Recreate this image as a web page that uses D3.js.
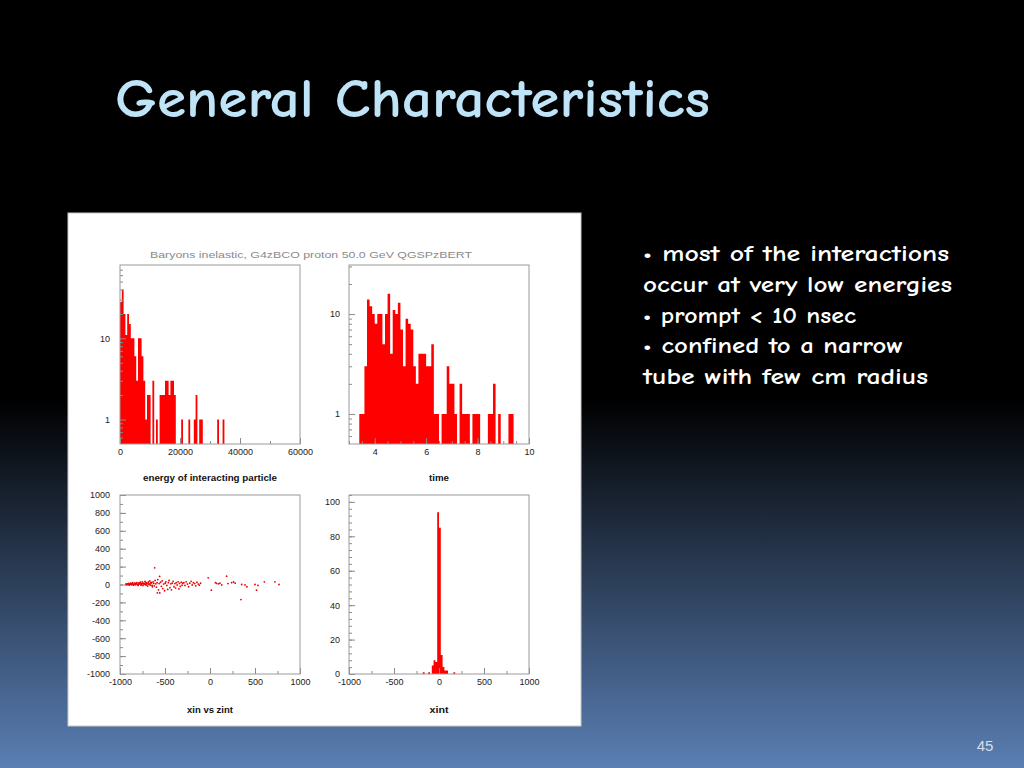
<!DOCTYPE html>
<html>
<head>
<meta charset="utf-8">
<script src="https://cdn.jsdelivr.net/npm/d3@7"></script>
<style>
  body { margin: 0; background: #000; overflow: hidden; }
</style>
</head>
<body>
<div id="slide"></div>
<script>
// energy of interacting particle, bins of 600 starting at 0
const energyBinWidth = 600;
const energyCounts = [28, 40, 20, 11, 20, 15, 10, 10, 6, 3,
                      10, 10, 6, 3, 1, 2, 2, 0, 3, 0,
                      1, 0, 2, 2, 2, 3, 3, 2, 3, 3,
                      2, 0, 0, 0, 1, 0, 0, 0, 1, 0,
                      0, 1, 2, 0, 1, 1, 0, 0, 0, 0,
                      0, 0, 0, 0, 1, 0, 0, 1];
const energyTicks = [0, 20000, 40000, 60000];

// time, bins of 0.1 starting at 3
const timeStart = 3;
const timeBinWidth = 0.1;
const timeCounts = [0, 0, 0, 0, 1, 1, 3, 14, 12, 10,
                    8, 10, 10, 5, 10, 16, 4, 11, 10, 13,
                    7, 3, 9, 8, 7, 3, 2, 4, 4, 4,
                    3, 3, 5, 1, 1, 0, 1, 1, 3, 2,
                    2, 1, 0, 2, 1, 1, 1, 0, 1, 1,
                    1, 0, 0, 0, 1, 1, 2, 0, 1, 0,
                    0, 0, 1, 1];
const timeTicks = [4, 6, 8, 10];

// xin vs zint scatter
const scatterX = [
  -935, -925, -918, -910, -902, -895, -888, -880, -872, -865, -858, -850, -842, -835, -828,
  -820, -812, -805, -798, -790, -782, -775, -768, -760, -752, -745, -738, -730, -722, -715,
  -708, -700, -692, -685, -678, -670, -662, -655, -648, -640, -632, -625, -618, -610, -602,
  -595, -588, -580, -572, -565, -558, -550, -540, -532, -525, -515, -505, -498, -490, -480,
  -470, -462, -455, -445, -435, -428, -420, -410, -400, -390, -382, -375, -365, -355, -345,
  -338, -330, -320, -310, -302,
  -290, -278, -265, -250, -238, -225, -210, -198, -185, -170, -158, -145, -130, -118, -105,
  -615, -585, -560, -20, 15, 60, 74, 95, 110, 130, 185, 200, 240, 262, 280,
  344, 352, 389, 410, 500, 517, 533, 604, 722, 767,
  -930, -914, -898, -884, -868, -853, -838, -824, -808, -793, -778, -763, -748, -733, -718,
  -703, -688, -673, -658, -643
];
const scatterY = [
  5, -3, 8, 0, 12, -6, 4, 15, -2, 9, 20, -8, 6, 14, -4,
  10, 22, 2, -10, 18, 7, 25, -5, 12, 30, -12, 16, 8, 35, -3,
  20, 10, -18, 28, 5, 40, -8, 15, 22, -25, 30, 12, -15, 45, 8,
  -30, 20, 55, -60, 10, -95, 25, -20, 40, -45, 5, -70, 15, 30, -10,
  -55, 20, 45, -35, 8, -60, 15, 35, -25, 10, -40, 20, -5, 30, -50,
  12, -20, 25, -8, 15,
  20, -10, 30, 5, -25, 15, 35, -5, 20, 10, -15, 25, 5, -8, 15,
  186, -93, 90, 75, -63, 20, 12, 8, 15, -5, 93, 10, 20, 28, 15,
  -168, 0, -5, -25, 0, -63, -10, 30, 30, 0,
  2, 6, -4, 10, 3, -1, 8, 12, 0, 5, 14, -2, 9, 4, 18,
  -6, 11, 3, 24, -10
];

// xint histogram, bins of 20 from -1000 (low edges of filled bins)
const xintStart = -1000;
const xintBinWidth = 20;
const xintEdges = [-180, -120, -80, -60, -40, -20, 0, 20, 40, 60, 80, 160];
const xintCounts = [1, 1, 5, 8, 7, 94, 85, 11, 4, 2, 2, 1];

const bullets = [
  '\u2022 most of the interactions',
  'occur at very low energies',
  '\u2022 prompt < 10 nsec',
  '\u2022 confined to a narrow',
  'tube with few cm radius'
];
const bulletWidths = [306, 309, 213, 260, 285];

const plotFont = "'Liberation Sans', Arial, Helvetica, sans-serif";
const slideFont = "'Comic Sans MS', 'Comic Neue', Lato, sans-serif";

const svg = d3.select('#slide').append('svg')
    .attr('width', 1024)
    .attr('height', 768);

const grad = svg.append('defs').append('linearGradient')
    .attr('id', 'bg')
    .attr('x1', 0).attr('y1', 0).attr('x2', 0).attr('y2', 1);
grad.append('stop').attr('offset', '0%').attr('stop-color', '#000');
grad.append('stop').attr('offset', '52%').attr('stop-color', '#000');
grad.append('stop').attr('offset', '100%').attr('stop-color', '#5a7fb4');

svg.append('rect')
    .attr('width', 1024)
    .attr('height', 768)
    .attr('fill', 'url(#bg)');

svg.append('text')
    .attr('x', 115)
    .attr('y', 117)
    .attr('font-family', slideFont)
    .attr('font-size', 54)
    .attr('font-weight', 'bold')
    .attr('fill', '#bfe4f8')
    .attr('textLength', 595)
    .attr('lengthAdjust', 'spacingAndGlyphs')
    .text('General Characteristics');

svg.append('g').selectAll('text')
    .data(bullets)
    .join('text')
    .attr('x', 643)
    .attr('y', (d, i) => 261 + i * 30.8)
    .attr('font-family', slideFont)
    .attr('font-size', 23)
    .attr('font-weight', 'bold')
    .attr('fill', '#fff')
    .attr('textLength', (d, i) => bulletWidths[i])
    .attr('lengthAdjust', 'spacingAndGlyphs')
    .text(d => d);

svg.append('text')
    .attr('x', 985)
    .attr('y', 751)
    .attr('text-anchor', 'middle')
    .attr('font-family', plotFont)
    .attr('font-size', 15)
    .attr('fill', '#d8dde8')
    .text('45');

// white picture panel
svg.append('rect')
    .attr('x', 68)
    .attr('y', 213)
    .attr('width', 513)
    .attr('height', 513)
    .attr('fill', '#fff')
    .attr('stroke', '#c8c8c8');

svg.append('text')
    .attr('x', 311)
    .attr('y', 258)
    .attr('text-anchor', 'middle')
    .attr('font-family', plotFont)
    .attr('font-size', 9.5)
    .attr('fill', '#8a8a8a')
    .attr('textLength', 322)
    .attr('lengthAdjust', 'spacingAndGlyphs')
    .text('Baryons inelastic,  G4zBCO proton 50.0 GeV QGSPzBERT');

const fmt = d => String(d);

function axes(g, x, y, o) {
    const [x0, x1] = x.range();
    const [y1, y0] = y.range();
    const clean = s => s.select('.domain').remove();

    g.append('g').attr('transform', `translate(0,${y1})`)
        .call(d3.axisBottom(x).tickValues(o.xMinor).tickSize(-3).tickFormat(''))
        .call(clean);
    g.append('g').attr('transform', `translate(${x0},0)`)
        .call(d3.axisLeft(y).tickValues(o.yMinor).tickSize(-3).tickFormat(''))
        .call(clean);

    g.append('g').attr('transform', `translate(0,${y1})`)
        .call(d3.axisBottom(x).tickValues(o.xMajor).tickSize(-6).tickPadding(5).tickFormat(fmt))
        .call(clean);
    g.append('g').attr('transform', `translate(${x0},0)`)
        .call(d3.axisLeft(y).tickValues(o.yMajor).tickSize(-6).tickPadding(o.yPad).tickFormat(fmt))
        .call(clean);

    g.selectAll('.tick line').attr('stroke', '#8a8a8a');
    g.selectAll('.tick text')
        .attr('font-family', plotFont)
        .attr('font-size', 9)
        .attr('fill', '#222');

    g.append('rect')
        .attr('x', x0).attr('y', y0)
        .attr('width', x1 - x0).attr('height', y1 - y0)
        .attr('fill', 'none')
        .attr('stroke', '#9a9a9a');

    g.append('text')
        .attr('x', (x0 + x1) / 2)
        .attr('y', o.titleY)
        .attr('text-anchor', 'middle')
        .attr('font-family', plotFont)
        .attr('font-size', 9)
        .attr('font-weight', 'bold')
        .attr('fill', '#111')
        .attr('textLength', o.titleW)
        .attr('lengthAdjust', 'spacingAndGlyphs')
        .text(o.title);
}

function logMinor(lo, hi) {
    const v = [];
    for (let dec = 0.1; dec <= 100; dec *= 10) {
        for (let k = 2; k <= 9; k++) {
            const t = +(k * dec).toPrecision(3);
            if (t > lo && t < hi) v.push(t);
        }
    }
    return v;
}

// filled histogram drawn as one stepped area, so adjacent bins have no seams
function hist(g, counts, start, w, x, y, base) {
    const pts = counts.map((c, i) => ({ lo: start + i * w, c }));
    pts.push({ lo: start + counts.length * w, c: counts[counts.length - 1] });
    const area = d3.area()
        .curve(d3.curveStepAfter)
        .x(d => x(d.lo))
        .y0(y(base))
        .y1(d => d.c > 0 ? y(d.c) : y(base));
    g.append('path')
        .datum(pts)
        .attr('d', area)
        .attr('fill', '#f00');
}

// energy of interacting particle
const xE = d3.scaleLinear().domain([0, 60000]).range([120, 300]);
const yE = d3.scaleLog().domain([0.5, 80]).range([444, 265]);
const gE = svg.append('g');
hist(gE, energyCounts, 0, energyBinWidth, xE, yE, 0.5);
axes(gE, xE, yE, {
    xMajor: energyTicks,
    xMinor: d3.range(0, 60001, 10000),
    yMajor: [1, 10],
    yMinor: logMinor(0.5, 80),
    yPad: 10,
    title: 'energy of interacting particle',
    titleY: 481,
    titleW: 134
});

// time
const xT = d3.scaleLinear().domain([3, 10]).range([349, 529]);
const yT = d3.scaleLog().domain([0.5, 31]).range([444, 265]);
const gT = svg.append('g');
hist(gT, timeCounts, timeStart, timeBinWidth, xT, yT, 0.5);
axes(gT, xT, yT, {
    xMajor: timeTicks,
    xMinor: d3.range(3, 10.01, 0.5),
    yMajor: [1, 10],
    yMinor: logMinor(0.5, 31),
    yPad: 9,
    title: 'time',
    titleY: 481,
    titleW: 20
});

// xin vs zint
const xS = d3.scaleLinear().domain([-1000, 1000]).range([120, 300]);
const yS = d3.scaleLinear().domain([-1000, 1000]).range([674, 495]);
const gS = svg.append('g');
gS.selectAll('circle')
    .data(scatterX.map((v, i) => [v, scatterY[i]]))
    .join('circle')
    .attr('cx', d => xS(d[0]))
    .attr('cy', d => yS(d[1]))
    .attr('r', 0.9)
    .attr('fill', '#e00');
axes(gS, xS, yS, {
    xMajor: [-1000, -500, 0, 500, 1000],
    xMinor: d3.range(-1000, 1001, 250),
    yMajor: d3.range(-1000, 1001, 200),
    yMinor: d3.range(-1000, 1001, 100),
    yPad: 10,
    title: 'xin vs zint',
    titleY: 713,
    titleW: 46
});

// xint
const xX = d3.scaleLinear().domain([-1000, 1000]).range([349, 529]);
const yX = d3.scaleLinear().domain([0, 104]).range([674, 495]);
const gX = svg.append('g');
const xintFull = d3.range(xintStart, 1000, xintBinWidth).map(lo => {
    const k = xintEdges.indexOf(lo);
    return k < 0 ? 0 : xintCounts[k];
});
hist(gX, xintFull, xintStart, xintBinWidth, xX, yX, 0);
axes(gX, xX, yX, {
    xMajor: [-1000, -500, 0, 500, 1000],
    xMinor: d3.range(-1000, 1001, 250),
    yMajor: d3.range(0, 101, 20),
    yMinor: d3.range(0, 105, 4),
    yPad: 9,
    title: 'xint',
    titleY: 713,
    titleW: 19
});
</script>
</body>
</html>
